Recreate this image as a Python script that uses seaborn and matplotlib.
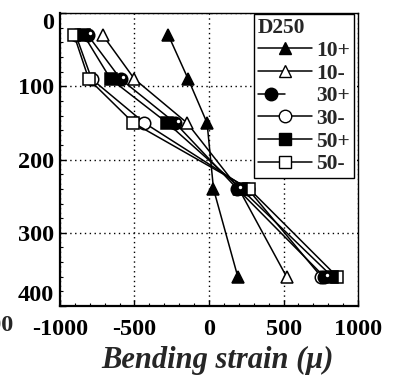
import matplotlib
matplotlib.use("Agg")
import matplotlib.pyplot as plt
import seaborn as sns
import pandas as pd
from matplotlib.lines import Line2D
from matplotlib.legend_handler import HandlerTuple

depths = [30, 90, 150, 240, 360]
s10p = [-273, -140, -13, 30, 193]
s10m = [-713, -500, -147, 200, 520]
s30p = [-813, -593, -227, 190, 773]
s30m = [-893, -787, -433, 260, 753]
s50p = [-840, -660, -280, 215, 827]
s50m = [-905, -807, -507, 270, 860]
labels = ["10+", "10-", "30+", "30-", "50+", "50-"]
series = [s10p, s10m, s30p, s30m, s50p, s50m]
xticks = [-1000, -500, 0, 500, 1000]
yticks = [0, 100, 200, 300, 400]

sns.set_theme(style="white")
plt.rcParams['font.family'] = ['Liberation Serif', 'DejaVu Serif']
plt.rcParams['font.weight'] = 'bold'

styles = {
    "10+": dict(marker="^", mfc="black"),
    "10-": dict(marker="^", mfc="white"),
    "30+": dict(marker="o", mfc="black"),
    "30-": dict(marker="o", mfc="white"),
    "50+": dict(marker="s", mfc="black"),
    "50-": dict(marker="s", mfc="white"),
}

fig = plt.figure(figsize=(3.94, 3.85), dpi=100)
ax = fig.add_axes([0.152, 0.205, 0.757, 0.761])

rows = []
for lab, vals in zip(labels, series):
    for d, v in zip(depths, vals):
        rows.append(dict(series=lab, depth=d, strain=v))
df = pd.DataFrame(rows)

order = ["10+", "10-", "30-", "50-", "30+", "50+"]
for lab in order:
    sub = df[df.series == lab]
    st = styles[lab]
    sns.lineplot(data=sub, x="strain", y="depth", orient="y", sort=False, ax=ax,
                 color="black", lw=1.1, marker=st["marker"], markersize=9,
                 markerfacecolor=st["mfc"], markeredgecolor="black",
                 markeredgewidth=1.1, zorder=3)
    if lab == "30+":
        sns.scatterplot(data=sub, x=sub.strain + 18, y=sub.depth - 3, ax=ax,
                        color="white", s=6, linewidth=0, zorder=4)

ax.set_xlim(-1000, 1000)
ax.set_ylim(400, 0)
ax.set_xticks(xticks)
ax.set_yticks(yticks)
ax.set_xticklabels([str(t) for t in xticks], fontsize=17.5, fontweight="bold")
ax.set_yticklabels([str(t) for t in yticks], fontsize=17.5, fontweight="bold")
ylabs = ax.get_yticklabels()
ylabs[0].set_va("top")
ylabs[-1].set_va("bottom")
ax.set_xticks(range(-1000, 1001, 100), minor=True)
ax.set_yticks(range(0, 401, 20), minor=True)
ax.tick_params(axis="x", which="major", direction="in", length=4, width=1,
               color="black", pad=9, labelcolor="black")
ax.tick_params(axis="y", which="major", direction="in", length=4, width=1,
               color="black", pad=4, labelcolor="black")
ax.tick_params(axis="both", which="minor", direction="in", length=2.5, width=0.8,
               color="black")
ax.tick_params(bottom=True, left=True, which="both")
ax.grid(True, which="major", color="black", linestyle=(0, (1, 2.5)), linewidth=1.0)
for s in ["left", "bottom"]:
    ax.spines[s].set_linewidth(1.6)
    ax.spines[s].set_color("black")
for s in ["top", "right"]:
    ax.spines[s].set_linewidth(1.0)
    ax.spines[s].set_color("black")

ax.set_ylabel("")
ax.set_xlabel("Bending strain (\u03bc)", fontsize=22, fontweight="bold",
              style="italic")
ax.xaxis.set_label_coords(0.53, -0.135)
ax.xaxis.label.set_va("top")

# clipped tick label at far left (outside the axes range)
ax.text(-1500, -0.068, "-1500", transform=ax.get_xaxis_transform(),
        ha="center", va="center", fontsize=17.5, fontweight="bold",
        clip_on=False)

handles = []
for lab in labels:
    st = styles[lab]
    h = Line2D([], [], color="black", lw=1.1, marker=st["marker"], markersize=9,
               markerfacecolor=st["mfc"], markeredgecolor="black")
    if lab == "30+":
        dot = Line2D([], [], linestyle="none", marker="o", markersize=2.5,
                     markerfacecolor="white", markeredgewidth=0)
        h = (h, dot)
    handles.append(h)

leg = ax.legend(handles, labels, title="D250", loc="upper right",
                bbox_to_anchor=(0.987, 0.997), frameon=True, fancybox=False,
                edgecolor="black", framealpha=1, handlelength=2.5,
                handletextpad=0.2, labelspacing=0.12, borderpad=0.2,
                borderaxespad=0.0, prop=dict(size=15.5, weight="bold"),
                handler_map={tuple: HandlerTuple(ndivide=None, pad=0)})
leg.get_title().set_fontsize(15.5)
leg.get_title().set_fontweight("bold")
leg._legend_box.align = "left"
leg.get_frame().set_linewidth(1.0)

fig.savefig("out.png", dpi=100)
